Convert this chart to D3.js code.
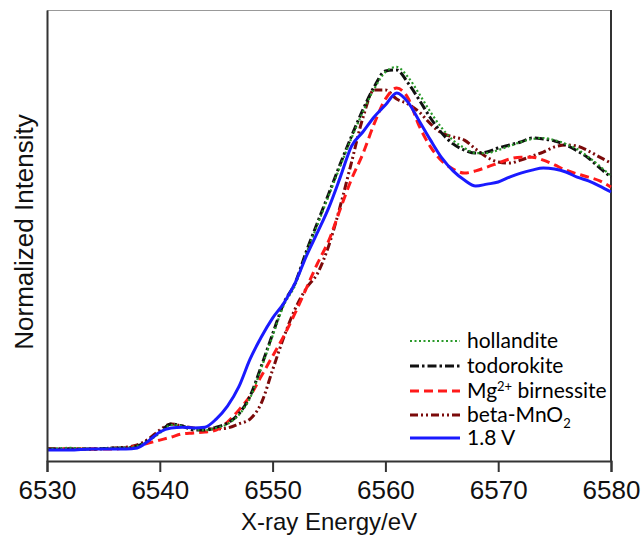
<!DOCTYPE html>
<html>
<head>
<meta charset="utf-8">
<script src="https://cdn.jsdelivr.net/npm/d3@7/dist/d3.min.js"></script>
<style>
  html, body { margin: 0; padding: 0; background: #fff; }
  svg { display: block; }
</style>
</head>
<body>
<svg id="chart" width="642" height="537"></svg>
<script>
// ---- data ----
const energies = [6530, 6532, 6534, 6536, 6537, 6538, 6539, 6540, 6541, 6542, 6543, 6544, 6545, 6546, 6547, 6548, 6549, 6550,
  6551, 6552, 6553, 6554, 6555, 6556, 6557, 6558, 6559, 6560, 6561, 6562, 6563, 6564, 6565, 6566, 6567, 6568, 6569, 6570,
  6571, 6572, 6573, 6574, 6575, 6576, 6577, 6578, 6579, 6580];

const hollandite = [0, 0.004, 0, 0.004, 0.004, 0.011, 0.030, 0.059, 0.089, 0.085, 0.074, 0.070, 0.078, 0.093, 0.126, 0.189, 0.300, 0.419,
  0.533, 0.607, 0.726, 0.833, 0.941, 1.048, 1.152, 1.248, 1.333, 1.396, 1.415, 1.378, 1.315, 1.248, 1.189, 1.144, 1.115, 1.096, 1.096, 1.107,
  1.122, 1.137, 1.148, 1.152, 1.144, 1.130, 1.111, 1.081, 1.048, 1.011];

const todorokite = [0, 0, 0, 0.004, 0.004, 0.011, 0.033, 0.063, 0.093, 0.085, 0.070, 0.070, 0.081, 0.096, 0.130, 0.196, 0.307, 0.426,
  0.541, 0.615, 0.733, 0.841, 0.948, 1.056, 1.159, 1.256, 1.341, 1.400, 1.404, 1.356, 1.293, 1.226, 1.170, 1.130, 1.107, 1.096, 1.100, 1.115,
  1.126, 1.137, 1.152, 1.148, 1.141, 1.126, 1.104, 1.078, 1.041, 1.007];

const mgBirnessite = [0, 0, 0, 0, 0.004, 0.011, 0.022, 0.033, 0.044, 0.056, 0.059, 0.063, 0.070, 0.100, 0.144, 0.196, 0.270, 0.344,
  0.419, 0.504, 0.596, 0.689, 0.774, 0.889, 1.000, 1.093, 1.204, 1.296, 1.337, 1.300, 1.196, 1.119, 1.067, 1.037, 1.022, 1.030, 1.044, 1.059,
  1.074, 1.081, 1.081, 1.070, 1.052, 1.033, 1.019, 1.007, 0.993, 0.970];

const betaMnO2 = [0, 0, 0, 0.004, 0.007, 0.015, 0.037, 0.070, 0.093, 0.085, 0.078, 0.074, 0.074, 0.078, 0.093, 0.111, 0.170, 0.293,
  0.415, 0.519, 0.596, 0.652, 0.756, 0.900, 1.063, 1.226, 1.330, 1.330, 1.296, 1.278, 1.248, 1.204, 1.170, 1.156, 1.144, 1.111, 1.081, 1.063,
  1.059, 1.070, 1.085, 1.100, 1.119, 1.126, 1.122, 1.104, 1.081, 1.059];

const v18 = [-0.004, -0.004, 0, 0, 0, 0.004, 0.030, 0.063, 0.078, 0.081, 0.078, 0.081, 0.111, 0.159, 0.230, 0.333, 0.415, 0.485,
  0.541, 0.615, 0.715, 0.804, 0.896, 1.007, 1.122, 1.174, 1.230, 1.274, 1.319, 1.285, 1.215, 1.144, 1.078, 1.030, 0.996, 0.974, 0.981, 0.989,
  1.007, 1.022, 1.033, 1.041, 1.037, 1.026, 1.007, 0.993, 0.974, 0.952];

const xTicks = [6530, 6540, 6550, 6560, 6570, 6580];
const xDomain = [6530, 6580];
const yDomain = [-0.0444, 1.626];

// series (drawing order) and legend order
const seriesList = [
  { key: "beta", values: betaMnO2, color: "#7b0a0a", dash: "8,3,2,3,2,3", width: 3 },
  { key: "mg", values: mgBirnessite, color: "#ff1a1a", dash: "9,5", width: 3 },
  { key: "todo", values: todorokite, color: "#111111", dash: "9,3,2.5,3", width: 3 },
  { key: "holl", values: hollandite, color: "#2a9a2a", dash: "2,2.5", width: 2.2 },
  { key: "v18", values: v18, color: "#1a1aff", dash: null, width: 3 }
];
const legendOrder = ["holl", "todo", "mg", "beta", "v18"];

// ---- layout ----
const svg = d3.select("#chart");
const mLeft = 47, mRight = 611, mTop = 10, mBottom = 461;

const x = d3.scaleLinear().domain(xDomain).range([mLeft, mRight]);
const y = d3.scaleLinear().domain(yDomain).range([mBottom, mTop]);

// frame: top thin gray, right dark
svg.append("line").attr("x1", mLeft).attr("x2", mRight).attr("y1", mTop + 0.5).attr("y2", mTop + 0.5)
  .attr("stroke", "#999").attr("stroke-width", 1.2);
svg.append("line").attr("x1", mRight).attr("x2", mRight).attr("y1", mTop).attr("y2", mBottom)
  .attr("stroke", "#333").attr("stroke-width", 2);

// lines
const line = d3.line().x((d, i) => x(energies[i])).y(d => y(d)).curve(d3.curveMonotoneX);
const plot = svg.append("g");
seriesList.forEach(s => {
  plot.append("path")
    .datum(s.values)
    .attr("d", line)
    .attr("fill", "none")
    .attr("stroke", s.color)
    .attr("stroke-width", s.width)
    .attr("stroke-dasharray", s.dash)
    .attr("stroke-linejoin", "round");
});

// axes
const xAxis = d3.axisBottom(x).tickValues(xTicks).tickFormat(d3.format("d")).tickSize(11).tickPadding(9);
const gx = svg.append("g").attr("transform", `translate(0,${mBottom})`).call(xAxis);
gx.select(".domain").attr("stroke", "#333").attr("stroke-width", 2);
gx.selectAll(".tick line").attr("stroke", "#333").attr("stroke-width", 2);
gx.selectAll(".tick text").attr("fill", "#111").style("font-family", "'Liberation Sans', Arial, sans-serif").style("font-size", "26px");

const yAxis = d3.axisLeft(y).tickValues([]).tickSize(0);
const gy = svg.append("g").attr("transform", `translate(${mLeft},0)`).call(yAxis);
gy.select(".domain").attr("stroke", "#333").attr("stroke-width", 2);

// axis titles
svg.append("text")
  .attr("x", 329).attr("y", 530)
  .attr("text-anchor", "middle")
  .style("font-family", "'Liberation Sans', Arial, sans-serif").style("font-size", "24px").attr("fill", "#111")
  .text("X-ray Energy/eV");

svg.append("text")
  .attr("transform", `translate(33,232) rotate(-90)`)
  .attr("text-anchor", "middle")
  .style("font-family", "'Liberation Sans', Arial, sans-serif").style("font-size", "26px").attr("fill", "#111")
  .text("Normalized Intensity");

// legend
const legend = svg.append("g").style("font-family", "Lato, 'Open Sans', sans-serif").style("font-size", "21px");
const legY = [341, 366, 391, 415, 438];
legendOrder.forEach((k, i) => {
  const s = seriesList.find(d => d.key === k);
  const g = legend.append("g").attr("transform", `translate(0,${legY[i]})`);
  g.append("line").attr("x1", 410).attr("x2", 460).attr("y1", 0).attr("y2", 0)
    .attr("stroke", s.color).attr("stroke-width", s.width).attr("stroke-dasharray", s.dash);
  const t = g.append("text").attr("x", 467).attr("y", 7).attr("fill", "#000");
  if (k === "holl") t.text("hollandite");
  else if (k === "todo") t.text("todorokite");
  else if (k === "mg") {
    t.append("tspan").text("Mg");
    t.append("tspan").attr("dy", -7).style("font-size", "13px").text("2+");
    t.append("tspan").attr("dy", 7).text(" birnessite");
  } else if (k === "beta") {
    t.append("tspan").text("beta-MnO");
    t.append("tspan").attr("dy", 6).style("font-size", "13px").text("2");
  } else t.text("1.8 V");
});
</script>
</body>
</html>
